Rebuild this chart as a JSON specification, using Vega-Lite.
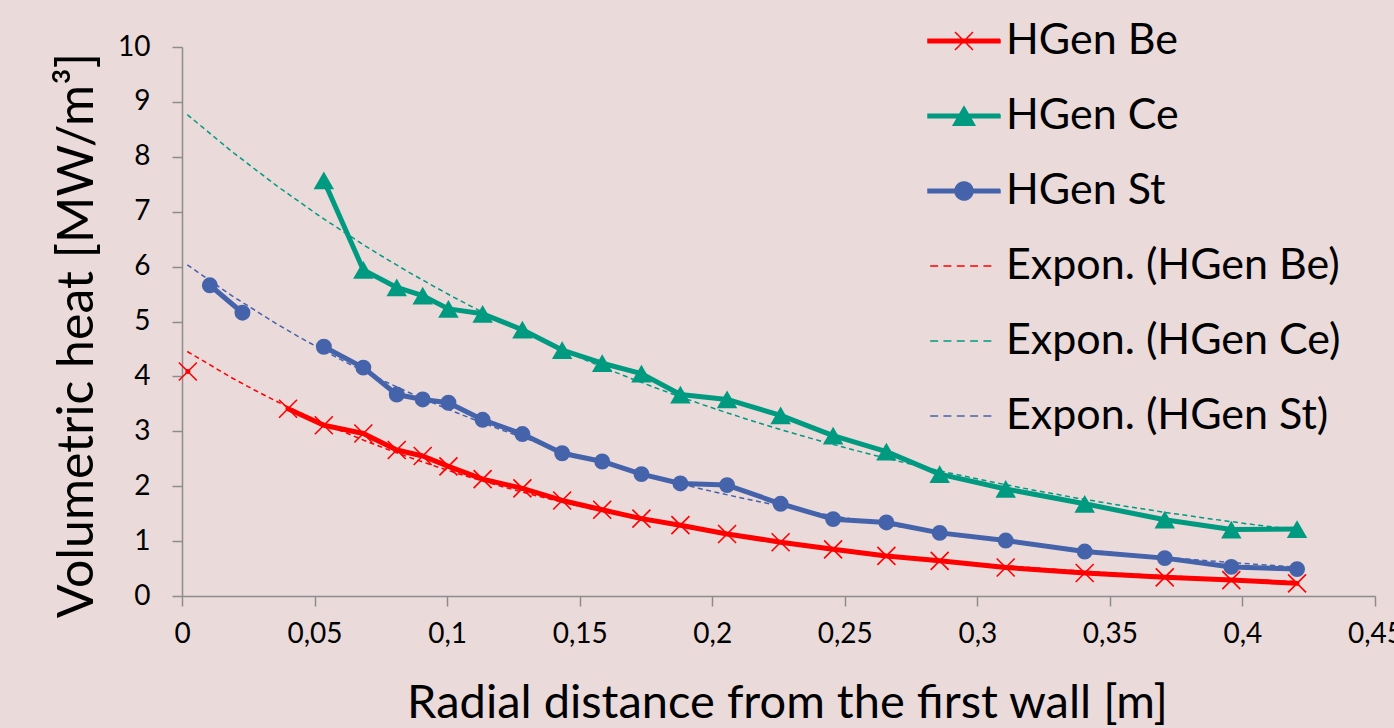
{
  "$schema": "https://vega.github.io/schema/vega-lite/v6.json",
  "width": 1193,
  "height": 549,
  "autosize": {"type": "none"},
  "padding": {"left": 182, "top": 47, "right": 19, "bottom": 132},
  "background": "#eadada",
  "config": {
    "view": {"stroke": null},
    "font": "Lato",
    "axis": {
      "grid": false,
      "labelFont": "Lato",
      "titleFont": "Lato",
      "labelColor": "#000000",
      "titleColor": "#000000",
      "labelFontSize": 28,
      "titleFontWeight": "normal",
      "domainColor": "#8c8c8c",
      "tickColor": "#8c8c8c",
      "domainWidth": 1.5,
      "tickWidth": 1.5,
      "tickSize": 10
    }
  },
  "data": {
    "values": [
      {"series": "HGen Be", "trend": "Expon. (HGen Be)", "seg": "a", "x": 0.0022, "y": 4.09},
      {"series": "HGen Be", "trend": "Expon. (HGen Be)", "seg": "b", "x": 0.0400, "y": 3.41},
      {"series": "HGen Be", "trend": "Expon. (HGen Be)", "seg": "b", "x": 0.0535, "y": 3.11},
      {"series": "HGen Be", "trend": "Expon. (HGen Be)", "seg": "b", "x": 0.0684, "y": 2.96},
      {"series": "HGen Be", "trend": "Expon. (HGen Be)", "seg": "b", "x": 0.0810, "y": 2.66},
      {"series": "HGen Be", "trend": "Expon. (HGen Be)", "seg": "b", "x": 0.0908, "y": 2.55},
      {"series": "HGen Be", "trend": "Expon. (HGen Be)", "seg": "b", "x": 0.1005, "y": 2.36},
      {"series": "HGen Be", "trend": "Expon. (HGen Be)", "seg": "b", "x": 0.1134, "y": 2.13},
      {"series": "HGen Be", "trend": "Expon. (HGen Be)", "seg": "b", "x": 0.1284, "y": 1.96},
      {"series": "HGen Be", "trend": "Expon. (HGen Be)", "seg": "b", "x": 0.1434, "y": 1.74},
      {"series": "HGen Be", "trend": "Expon. (HGen Be)", "seg": "b", "x": 0.1585, "y": 1.57},
      {"series": "HGen Be", "trend": "Expon. (HGen Be)", "seg": "b", "x": 0.1733, "y": 1.41},
      {"series": "HGen Be", "trend": "Expon. (HGen Be)", "seg": "b", "x": 0.1880, "y": 1.29},
      {"series": "HGen Be", "trend": "Expon. (HGen Be)", "seg": "b", "x": 0.2056, "y": 1.13},
      {"series": "HGen Be", "trend": "Expon. (HGen Be)", "seg": "b", "x": 0.2258, "y": 0.98},
      {"series": "HGen Be", "trend": "Expon. (HGen Be)", "seg": "b", "x": 0.2456, "y": 0.85},
      {"series": "HGen Be", "trend": "Expon. (HGen Be)", "seg": "b", "x": 0.2657, "y": 0.73},
      {"series": "HGen Be", "trend": "Expon. (HGen Be)", "seg": "b", "x": 0.2858, "y": 0.64},
      {"series": "HGen Be", "trend": "Expon. (HGen Be)", "seg": "b", "x": 0.3107, "y": 0.52},
      {"series": "HGen Be", "trend": "Expon. (HGen Be)", "seg": "b", "x": 0.3405, "y": 0.42},
      {"series": "HGen Be", "trend": "Expon. (HGen Be)", "seg": "b", "x": 0.3707, "y": 0.34},
      {"series": "HGen Be", "trend": "Expon. (HGen Be)", "seg": "b", "x": 0.3958, "y": 0.29},
      {"series": "HGen Be", "trend": "Expon. (HGen Be)", "seg": "b", "x": 0.4206, "y": 0.23},
      {"series": "HGen Ce", "trend": "Expon. (HGen Ce)", "seg": "b", "x": 0.0535, "y": 7.57},
      {"series": "HGen Ce", "trend": "Expon. (HGen Ce)", "seg": "b", "x": 0.0684, "y": 5.94},
      {"series": "HGen Ce", "trend": "Expon. (HGen Ce)", "seg": "b", "x": 0.0810, "y": 5.62},
      {"series": "HGen Ce", "trend": "Expon. (HGen Ce)", "seg": "b", "x": 0.0908, "y": 5.47},
      {"series": "HGen Ce", "trend": "Expon. (HGen Ce)", "seg": "b", "x": 0.1005, "y": 5.23},
      {"series": "HGen Ce", "trend": "Expon. (HGen Ce)", "seg": "b", "x": 0.1134, "y": 5.14},
      {"series": "HGen Ce", "trend": "Expon. (HGen Ce)", "seg": "b", "x": 0.1284, "y": 4.85},
      {"series": "HGen Ce", "trend": "Expon. (HGen Ce)", "seg": "b", "x": 0.1434, "y": 4.48},
      {"series": "HGen Ce", "trend": "Expon. (HGen Ce)", "seg": "b", "x": 0.1585, "y": 4.24},
      {"series": "HGen Ce", "trend": "Expon. (HGen Ce)", "seg": "b", "x": 0.1733, "y": 4.05},
      {"series": "HGen Ce", "trend": "Expon. (HGen Ce)", "seg": "b", "x": 0.1880, "y": 3.67},
      {"series": "HGen Ce", "trend": "Expon. (HGen Ce)", "seg": "b", "x": 0.2056, "y": 3.58},
      {"series": "HGen Ce", "trend": "Expon. (HGen Ce)", "seg": "b", "x": 0.2258, "y": 3.29},
      {"series": "HGen Ce", "trend": "Expon. (HGen Ce)", "seg": "b", "x": 0.2456, "y": 2.92},
      {"series": "HGen Ce", "trend": "Expon. (HGen Ce)", "seg": "b", "x": 0.2657, "y": 2.63},
      {"series": "HGen Ce", "trend": "Expon. (HGen Ce)", "seg": "b", "x": 0.2858, "y": 2.22},
      {"series": "HGen Ce", "trend": "Expon. (HGen Ce)", "seg": "b", "x": 0.3107, "y": 1.95},
      {"series": "HGen Ce", "trend": "Expon. (HGen Ce)", "seg": "b", "x": 0.3405, "y": 1.68},
      {"series": "HGen Ce", "trend": "Expon. (HGen Ce)", "seg": "b", "x": 0.3707, "y": 1.39},
      {"series": "HGen Ce", "trend": "Expon. (HGen Ce)", "seg": "b", "x": 0.3958, "y": 1.21},
      {"series": "HGen Ce", "trend": "Expon. (HGen Ce)", "seg": "b", "x": 0.4206, "y": 1.22},
      {"series": "HGen St", "trend": "Expon. (HGen St)", "seg": "a", "x": 0.0105, "y": 5.66},
      {"series": "HGen St", "trend": "Expon. (HGen St)", "seg": "a", "x": 0.0228, "y": 5.16},
      {"series": "HGen St", "trend": "Expon. (HGen St)", "seg": "b", "x": 0.0535, "y": 4.54},
      {"series": "HGen St", "trend": "Expon. (HGen St)", "seg": "b", "x": 0.0684, "y": 4.16},
      {"series": "HGen St", "trend": "Expon. (HGen St)", "seg": "b", "x": 0.0810, "y": 3.67},
      {"series": "HGen St", "trend": "Expon. (HGen St)", "seg": "b", "x": 0.0908, "y": 3.58},
      {"series": "HGen St", "trend": "Expon. (HGen St)", "seg": "b", "x": 0.1005, "y": 3.52},
      {"series": "HGen St", "trend": "Expon. (HGen St)", "seg": "b", "x": 0.1134, "y": 3.21},
      {"series": "HGen St", "trend": "Expon. (HGen St)", "seg": "b", "x": 0.1284, "y": 2.95},
      {"series": "HGen St", "trend": "Expon. (HGen St)", "seg": "b", "x": 0.1434, "y": 2.60},
      {"series": "HGen St", "trend": "Expon. (HGen St)", "seg": "b", "x": 0.1585, "y": 2.45},
      {"series": "HGen St", "trend": "Expon. (HGen St)", "seg": "b", "x": 0.1733, "y": 2.22},
      {"series": "HGen St", "trend": "Expon. (HGen St)", "seg": "b", "x": 0.1880, "y": 2.05},
      {"series": "HGen St", "trend": "Expon. (HGen St)", "seg": "b", "x": 0.2056, "y": 2.02},
      {"series": "HGen St", "trend": "Expon. (HGen St)", "seg": "b", "x": 0.2258, "y": 1.68},
      {"series": "HGen St", "trend": "Expon. (HGen St)", "seg": "b", "x": 0.2456, "y": 1.40},
      {"series": "HGen St", "trend": "Expon. (HGen St)", "seg": "b", "x": 0.2657, "y": 1.34},
      {"series": "HGen St", "trend": "Expon. (HGen St)", "seg": "b", "x": 0.2858, "y": 1.15},
      {"series": "HGen St", "trend": "Expon. (HGen St)", "seg": "b", "x": 0.3107, "y": 1.01},
      {"series": "HGen St", "trend": "Expon. (HGen St)", "seg": "b", "x": 0.3405, "y": 0.81},
      {"series": "HGen St", "trend": "Expon. (HGen St)", "seg": "b", "x": 0.3707, "y": 0.69},
      {"series": "HGen St", "trend": "Expon. (HGen St)", "seg": "b", "x": 0.3958, "y": 0.53},
      {"series": "HGen St", "trend": "Expon. (HGen St)", "seg": "b", "x": 0.4206, "y": 0.49}
    ]
  },
  "encoding": {
    "x": {
      "field": "x",
      "type": "quantitative",
      "scale": {"domain": [0, 0.45], "nice": false, "zero": false},
      "axis": {
        "title": "Radial distance from the first wall [m]",
        "values": [0, 0.05, 0.1, 0.15, 0.2, 0.25, 0.3, 0.35, 0.4, 0.45],
        "labelExpr": "replace(format(datum.value, '.2~f'), '.', ',')",
        "labelPadding": 14,
        "labelFlush": false,
        "labelOverlap": false,
        "titleFontSize": 47,
        "titleBaseline": "alphabetic",
        "titleX": 605,
        "titleY": 121
      }
    },
    "y": {
      "field": "y",
      "type": "quantitative",
      "scale": {"domain": [0, 10], "nice": false},
      "axis": {
        "title": "Volumetric heat [MW/m³]",
        "values": [0, 1, 2, 3, 4, 5, 6, 7, 8, 9, 10],
        "labelPadding": 22,
        "titleFontSize": 50,
        "titleAngle": 270,
        "titleBaseline": "alphabetic",
        "titleAlign": "center",
        "titleX": -90,
        "titleY": 288
      }
    }
  },
  "layer": [
    {
      "transform": [
        {"regression": "y", "on": "x", "groupby": ["trend"], "method": "exp", "extent": [0.002, 0.421]}
      ],
      "mark": {"type": "line", "strokeWidth": 1.5, "strokeDash": [5, 3.5]},
      "encoding": {
        "color": {
          "field": "trend",
          "type": "nominal",
          "scale": {
            "domain": ["HGen Be", "HGen Ce", "HGen St", "Expon. (HGen Be)", "Expon. (HGen Ce)", "Expon. (HGen St)"],
            "range": ["#ff0000", "#009a80", "#4563ab", "#ff0000", "#009a80", "#4563ab"]
          },
          "legend": {
            "title": null,
            "orient": "none",
            "legendX": 745,
            "legendY": -43,
            "labelFont": "Lato",
            "labelFontSize": 43,
            "labelColor": "#000000",
            "labelLimit": 600,
            "labelOffset": 5,
            "rowPadding": 16,
            "symbolSize": 5184,
            "symbolStrokeWidth": 1.5,
            "padding": 0,
            "encode": {
              "symbols": {
                "update": {
                  "shape": {"signal": "datum.value == 'HGen Be' ? 'M-1,-0.05H1V0.05H-1Z M-0.25,-0.25L0.25,0.25 M-0.25,0.25L0.25,-0.25' : datum.value == 'HGen Ce' ? 'M-1,-0.05H1V0.05H-1Z M0,-0.26L0.3,0.26H-0.3Z' : datum.value == 'HGen St' ? 'M-1,-0.05H1V0.05H-1Z M-0.25,0A0.25,0.25 0 1,1 0.25,0A0.25,0.25 0 1,1 -0.25,0Z' : 'M-0.94,0H-0.72M-0.57,0H-0.35M-0.2,0H0.02M0.17,0H0.39M0.54,0H0.76'"},
                  "fill": {"signal": "datum.value == 'HGen Be' ? '#ff0000' : datum.value == 'HGen Ce' ? '#009a80' : datum.value == 'HGen St' ? '#4563ab' : 'transparent'"},
                  "stroke": {"signal": "indexof(datum.value, 'Be') >= 0 ? '#ff0000' : indexof(datum.value, 'Ce') >= 0 ? '#009a80' : '#4563ab'"},
                  "strokeWidth": {"value": 1.5},
                  "strokeDash": {"value": [1, 0]},
                  "opacity": {"value": 1},
                  "size": {"value": 5184}
                }
              }
            }
          }
        }
      }
    },
    {
      "mark": {"type": "line", "strokeWidth": 5, "strokeCap": "round", "strokeJoin": "round"},
      "encoding": {
        "color": {"field": "series", "type": "nominal"},
        "detail": {"field": "seg", "type": "nominal"}
      }
    },
    {
      "transform": [{"filter": "datum.series == 'HGen Be'"}],
      "mark": {"type": "point", "shape": "M-1,-1L1,1M-1,1L1,-1", "filled": false, "strokeWidth": 1.6, "size": 324, "opacity": 1},
      "encoding": {"color": {"field": "series", "type": "nominal"}}
    },
    {
      "transform": [{"filter": "datum.series == 'HGen Ce'"}],
      "mark": {"type": "point", "shape": "triangle-up", "filled": true, "size": 420, "opacity": 1},
      "encoding": {"color": {"field": "series", "type": "nominal"}}
    },
    {
      "transform": [{"filter": "datum.series == 'HGen St'"}],
      "mark": {"type": "point", "shape": "circle", "filled": true, "size": 254, "opacity": 1},
      "encoding": {"color": {"field": "series", "type": "nominal"}}
    }
  ]
}
